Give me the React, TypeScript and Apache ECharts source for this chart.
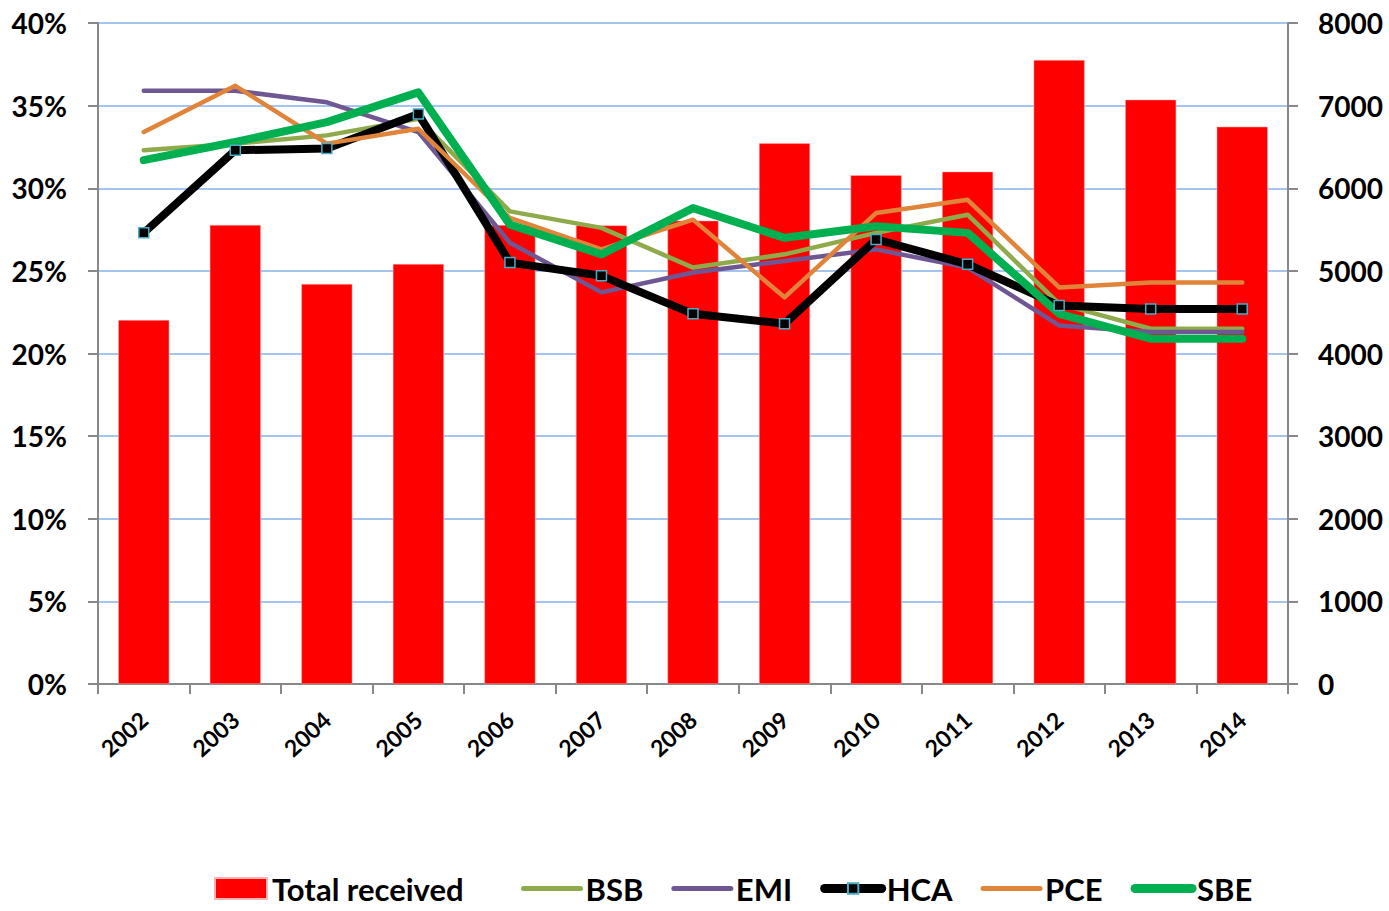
import React, { useEffect, useRef } from "react";
import * as echarts from "echarts";

const years = ["2002", "2003", "2004", "2005", "2006", "2007", "2008", "2009", "2010", "2011", "2012", "2013", "2014"];
const totalReceived = [4405, 5555, 4841, 5083, 5555, 5550, 5607, 6544, 6157, 6201, 7552, 7072, 6745];
const bsb = [32.3, 32.7, 33.2, 34.2, 28.6, 27.6, 25.2, 26.0, 27.3, 28.4, 23.0, 21.5, 21.5];
const emi = [35.9, 35.9, 35.2, 33.4, 26.7, 23.7, 24.9, 25.6, 26.3, 25.2, 21.7, 21.3, 21.3];
const hca = [27.3, 32.3, 32.4, 34.5, 25.5, 24.7, 22.4, 21.8, 26.9, 25.4, 22.9, 22.7, 22.7];
const pce = [33.4, 36.2, 32.7, 33.6, 28.2, 26.3, 28.1, 23.4, 28.5, 29.3, 24.0, 24.3, 24.3];
const sbe = [31.7, 32.8, 34.0, 35.8, 27.8, 26.0, 28.8, 27.0, 27.7, 27.3, 22.4, 20.9, 20.9];
const leftTicks = { min: 0, max: 40, interval: 5 };
const rightTicks = { min: 0, max: 8000, interval: 1000 };

const FONT = "Lato";

export default function App() {
  const ref = useRef<HTMLDivElement>(null);
  useEffect(() => {
    document.body.style.margin = "0";
    if (!ref.current) return;
    const chart = echarts.init(ref.current, null, { renderer: "svg" });
    const lineBase = (name: string, data: number[], color: string, width: number) => ({
      name,
      type: "line",
      yAxisIndex: 0,
      data,
      symbol: "none",
      lineStyle: { color, width, cap: "round", join: "round" },
      itemStyle: { color },
      z: 3,
    });
    const legendText = { fontFamily: FONT, fontWeight: "bold", fontSize: 31, color: "#000" };
    const legLine = (name: string, width: number, hideSymbol = true) => ({
      name,
      itemStyle: hideSymbol ? { opacity: 0 } : undefined,
      lineStyle: { width, cap: "round" },
    });
    chart.setOption({
      animation: false,
      backgroundColor: "#ffffff",
      textStyle: { fontFamily: FONT },
      grid: { left: 98, right: 101, top: 23, bottom: 227, containLabel: false },
      legend: [
        {
          left: 214,
          top: 873,
          itemWidth: 52,
          itemHeight: 21,
          padding: 0,
          textStyle: legendText,
          data: [{ name: "Total received", icon: "rect" }],
        },
        {
          left: 521,
          top: 873,
          itemGap: 28,
          itemWidth: 57,
          itemHeight: 13,
          padding: 0,
          textStyle: legendText,
          data: [
            legLine("BSB", 5),
            legLine("EMI", 5),
            legLine("HCA", 9, false),
            legLine("PCE", 5),
            legLine("SBE", 9),
          ],
        },
      ],
      xAxis: {
        type: "category",
        data: years,
        boundaryGap: true,
        axisLine: { show: true, lineStyle: { color: "#888888", width: 2 } },
        axisTick: { show: true, alignWithLabel: false, length: 10, lineStyle: { color: "#888888", width: 2 } },
        axisLabel: {
          rotate: 42,
          margin: 32,
          fontFamily: FONT,
          fontWeight: "bold",
          fontSize: 23,
          color: "#000",
        },
      },
      yAxis: [
        {
          type: "value",
          min: leftTicks.min,
          max: leftTicks.max,
          interval: leftTicks.interval,
          axisLine: { show: true, lineStyle: { color: "#888888", width: 2 } },
          axisTick: { show: true, length: 10, lineStyle: { color: "#888888", width: 2 } },
          axisLabel: {
            formatter: "{value}%",
            margin: 31,
            fontFamily: FONT,
            fontWeight: "bold",
            fontSize: 28,
            color: "#000",
          },
          splitLine: { show: true, lineStyle: { color: "#86b0ee", width: 1.5 } },
        },
        {
          type: "value",
          min: rightTicks.min,
          max: rightTicks.max,
          interval: rightTicks.interval,
          position: "right",
          axisLine: { show: true, lineStyle: { color: "#888888", width: 2 } },
          axisTick: { show: true, length: 10, lineStyle: { color: "#888888", width: 2 } },
          axisLabel: {
            formatter: (v: number) => String(v),
            margin: 30,
            fontFamily: FONT,
            fontWeight: "bold",
            fontSize: 28,
            color: "#000",
          },
          splitLine: { show: false },
        },
      ],
      series: [
        {
          name: "Total received",
          type: "bar",
          yAxisIndex: 1,
          data: totalReceived,
          barWidth: 51,
          itemStyle: { color: "#ff0000", borderColor: "#ffb3b3", borderWidth: 0.5 },
          z: 2,
        },
        lineBase("BSB", bsb, "#8faa4b", 4.5),
        lineBase("EMI", emi, "#6e5793", 4.5),
        {
          ...lineBase("HCA", hca, "#000000", 8),
          symbol: "rect",
          symbolSize: 10,
          showSymbol: true,
          itemStyle: { color: "#000000", borderColor: "#4bacc6", borderWidth: 1.5 },
        },
        lineBase("PCE", pce, "#e0843a", 4.5),
        lineBase("SBE", sbe, "#00b050", 8),
      ],
    });
    return () => chart.dispose();
  }, []);
  return <div ref={ref} style={{ width: 1389, height: 911 }} />;
}
